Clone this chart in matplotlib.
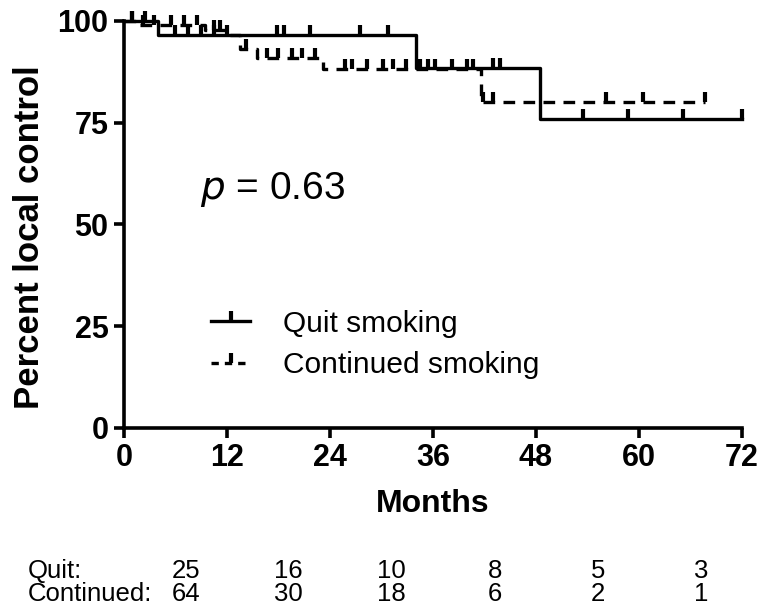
import numpy as np
import matplotlib.pyplot as plt

plt.rcParams['font.family'] = ['Liberation Sans', 'DejaVu Sans']

# Kaplan-Meier steps (months, percent local control)
quit_t = [0, 4, 34, 48.5, 72]
quit_s = [100, 96.6, 88.5, 75.8, 75.8]
quit_cens = [1, 2.5, 6, 7.5, 9, 10.5, 12, 17.8, 18.6, 21.7, 27.5, 30.8,
             43, 43.8, 53.5, 58.7, 65.1, 72]

cont_t = [0, 1.5, 9.5, 12.0, 13.5, 15.5, 23.2, 41.6, 67.7]
cont_s = [100, 98.9, 97.8, 96.5, 93.2, 91.0, 88.2, 80.0, 80.0]
cont_cens = [1, 2.2, 3.5, 5.5, 7, 8.5, 10.5, 11.2, 14.2, 16.7, 17.9, 19.6,
             20.7, 22.3, 25.8, 26.6, 28.3, 30.2, 31.3, 32.9, 34.5, 35.4, 36.2,
             38.2, 40.0, 40.7, 41.8, 43.0, 56.1, 60.5, 67.7]

risk_quit = [25, 16, 10, 8, 5, 3]
risk_cont = [64, 30, 18, 6, 2, 1]
p_text = "0.63"


def surv_at(t, times, surv):
    idx = np.searchsorted(times, t, side='right') - 1
    return np.array(surv)[idx]


fig = plt.figure(figsize=(7.69, 6.12), dpi=100)
ax = fig.add_axes([0.161, 0.3007, 0.804, 0.665])

lw = 2.4
ax.step(quit_t, quit_s, where='post', color='black', lw=lw, clip_on=False)
ax.plot(quit_cens, surv_at(quit_cens, quit_t, quit_s), ls='none', marker=2,
        ms=7, mew=3, color='black', clip_on=False)
ax.step(cont_t, cont_s, where='post', color='black', lw=lw, dashes=(3.5, 2.5),
        clip_on=False)
ax.plot(cont_cens, surv_at(cont_cens, cont_t, cont_s), ls='none', marker=2,
        ms=7, mew=3, color='black', clip_on=False)

ax.set_xlim(0, 72)
ax.set_ylim(0, 100)
ax.set_xticks(range(0, 73, 12))
ax.set_yticks([0, 25, 50, 75, 100])
for s in ['top', 'right']:
    ax.spines[s].set_visible(False)
for s in ['left', 'bottom']:
    ax.spines[s].set_linewidth(2.6)
ax.tick_params(direction='out', length=7, width=2.6, labelsize=22, pad=4)
for lab in ax.get_xticklabels() + ax.get_yticklabels():
    lab.set_fontweight('bold')

ax.set_xlabel('Months', fontsize=23, fontweight='bold')
ax.set_ylabel('Percent local control', fontsize=25, fontweight='bold')
ax.xaxis.set_label_coords(0.5, -0.15)
ax.yaxis.set_label_coords(-0.126, 0.47)

ax.text(8.9, 58.5, r'$\it{p}$' + ' = ' + p_text, fontsize=28, va='center')

h1 = plt.Line2D([], [], color='black', lw=lw, marker=2, ms=7, mew=3)
h2 = plt.Line2D([], [], color='black', lw=lw, dashes=(2.2, 1.8), marker=2, ms=7, mew=3)
leg = ax.legend([h1, h2], ['Quit smoking', 'Continued smoking'], loc='upper left',
                bbox_to_anchor=(0.122, 0.32), frameon=False, handlelength=1.3,
                handletextpad=1.1, labelspacing=0.45, numpoints=1,
                prop={'size': 21.5}, borderaxespad=0)

rx = np.arange(len(risk_quit)) * 12 + 7.2
fig.text(0.036, 1 - 571 / 612, 'Quit:', fontsize=18.5, va='center')
fig.text(0.036, 1 - 594 / 612, 'Continued:', fontsize=18.5, va='center')
tr = ax.get_xaxis_transform()
for x, q, c in zip(rx, risk_quit, risk_cont):
    ax.text(x, -(571 - 428) / 407, str(q), fontsize=18.5, ha='center', va='center',
            transform=tr, clip_on=False)
    ax.text(x, -(594 - 428) / 407, str(c), fontsize=18.5, ha='center', va='center',
            transform=tr, clip_on=False)

fig.savefig('out.png', dpi=100)
